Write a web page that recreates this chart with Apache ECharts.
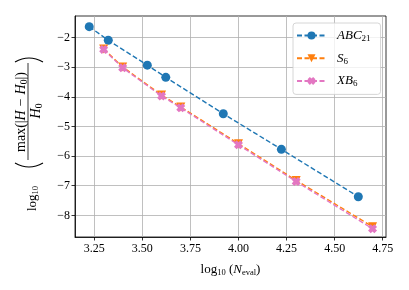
<!DOCTYPE html>
<html><head><meta charset="utf-8">
<script src="https://cdn.jsdelivr.net/npm/echarts@6/dist/echarts.min.js"></script>
<style>html,body{margin:0;padding:0;background:#fff}#c{width:409px;height:290px}</style>
</head><body><div id="c"></div>
<script>
const xABC21 = [3.224, 3.323, 3.526, 3.622, 3.921, 4.223, 4.623];
const yABC21 = [-1.63, -2.09, -2.93, -3.34, -4.57, -5.77, -7.37];
const xS6 = [3.299, 3.398, 3.600, 3.700, 4.000, 4.300, 4.697];
const yS6 = [-2.38, -2.99, -3.94, -4.34, -5.58, -6.82, -8.38];
const xXB6 = [3.299, 3.398, 3.600, 3.700, 4.000, 4.300, 4.697];
const yXB6 = [-2.40, -3.02, -3.97, -4.37, -5.62, -6.86, -8.45];
const xTicks = [3.25, 3.50, 3.75, 4.00, 4.25, 4.50, 4.75];
const yTicks = [-8, -7, -6, -5, -4, -3, -2];
const seriesNames = ['ABC21', 'S6', 'XB6'];

const pair = (xs, ys) => xs.map((x, i) => [x, ys[i]]);
const SERIF = "'Liberation Serif', 'DejaVu Serif', serif";
const xPath = 'path://M0,3 L3,0 L5,2 L7,0 L10,3 L8,5 L10,7 L7,10 L5,8 L3,10 L0,7 L2,5 Z';

const chart = echarts.init(document.getElementById('c'), null, {renderer: 'canvas'});
const legendRich = {
  i: {fontFamily: SERIF, fontStyle: 'italic', fontSize: 13, color: '#000', padding: [0,0,0,6]},
  s: {fontFamily: SERIF, fontSize: 9, color: '#000', padding: [6,0,0,0]}
};
const legendText = {ABC21: '{i|ABC}{s|21}', S6: '{i|S}{s|6}', XB6: '{i|XB}{s|6}'};
const lab = {
  a: {fontFamily: SERIF, fontSize: 14, color: '#000'},
  m: {fontFamily: SERIF, fontSize: 14, color: '#000', padding: [0, 4, 0, 4]},
  i: {fontFamily: SERIF, fontSize: 14, fontStyle: 'italic', color: '#000'},
  s: {fontFamily: SERIF, fontSize: 9.5, color: '#000', padding: [6,0,0,0]}
};

chart.setOption({
  animation: false,
  grid: {left: 75, right: 23, top: 16, bottom: 53, show: true, borderColor: '#000', borderWidth: 0.8, containLabel: false},
  xAxis: {
    type: 'value', min: 3.15, max: 4.767,
    axisLine: {show: true, lineStyle: {color: '#000', width: 0.8}},
    axisTick: {show: true, inside: false, length: 3.5, lineStyle: {color: '#000', width: 0.8}, customValues: xTicks},
    axisLabel: {customValues: xTicks, color: '#000', fontFamily: SERIF, fontSize: 12, margin: 6,
      formatter: v => v.toFixed(2)},
    splitLine: {show: true, lineStyle: {color: '#b0b0b0', width: 0.8}},
    name: '{a|log}{s|10}{a| (}{i|N}{s|eval}{a|)}',
    nameLocation: 'middle', nameGap: 25,
    nameTextStyle: {rich: {
      a: {fontFamily: SERIF, fontSize: 13, color: '#000'},
      i: {fontFamily: SERIF, fontSize: 13, fontStyle: 'italic', color: '#000'},
      s: {fontFamily: SERIF, fontSize: 8.5, color: '#000', padding: [6,0,0,0]}
    }}
  },
  yAxis: {
    type: 'value', min: -8.73, max: -1.27,
    axisLine: {show: true, lineStyle: {color: '#000', width: 0.8}},
    axisTick: {show: true, inside: false, length: 3.5, lineStyle: {color: '#000', width: 0.8}, customValues: yTicks},
    axisLabel: {customValues: yTicks, color: '#000', fontFamily: SERIF, fontSize: 12, margin: 5,
      formatter: v => String(v).replace('-', '\u2212')},
    splitLine: {show: true, lineStyle: {color: '#b0b0b0', width: 0.8}}
  },
  legend: {
    left: 293, top: 23, orient: 'vertical',
    padding: [6, 10, 6, 3], itemGap: 8.7, itemWidth: 29, itemHeight: 10,
    backgroundColor: 'rgba(255,255,255,0.8)', borderColor: '#cccccc', borderWidth: 0.8, borderRadius: 3,
    data: seriesNames,
    formatter: n => legendText[n],
    textStyle: {rich: legendRich}
  },
  series: [
    {name: seriesNames[0], type: 'line', data: pair(xABC21, yABC21), symbol: 'circle', symbolSize: 9,
      itemStyle: {color: '#1f77b4'}, lineStyle: {type: [5, 2.5], width: 1.4, color: '#1f77b4'}},
    {name: seriesNames[1], type: 'line', data: pair(xS6, yS6), symbol: 'triangle', symbolRotate: 180, symbolSize: 9,
      itemStyle: {color: '#ff7f0e'}, lineStyle: {type: [5, 2.5], width: 1.4, color: '#ff7f0e'}},
    {name: seriesNames[2], type: 'line', data: pair(xXB6, yXB6), symbol: xPath, symbolSize: 9,
      itemStyle: {color: '#e377c2'}, lineStyle: {type: [5, 2.5], width: 1.4, color: '#e377c2'}}
  ],
  graphic: [{
    type: 'group', x: 29, y: 134, rotation: Math.PI / 2,
    children: [
      {type: 'text', x: -77, y: 4, style: {text: '{a|log}{s|10}', verticalAlign: 'middle', rich: {
        a: {fontFamily: SERIF, fontSize: 13, color: '#000'},
        s: {fontFamily: SERIF, fontSize: 8.5, color: '#000', padding: [6,0,0,0]}}}},
      {type: 'bezierCurve', shape: {x1: -29, y1: -14, cpx1: -37, cpy1: 0, x2: -29, y2: 14},
        style: {stroke: '#000', lineWidth: 1.1, fill: null}},
      {type: 'text', x: 22, y: -8, style: {text: '{a|max(|}{i|H}{m|\u2212}{i|H}{s|0}{a||)}', textAlign: 'center', verticalAlign: 'middle', rich: lab}},
      {type: 'line', shape: {x1: -26, y1: -1, x2: 71, y2: -1}, style: {stroke: '#000', lineWidth: 0.8}},
      {type: 'text', x: 23, y: 7, style: {text: '{i|H}{s|0}', textAlign: 'center', verticalAlign: 'middle', rich: lab}},
      {type: 'bezierCurve', shape: {x1: 72, y1: -14, cpx1: 80, cpy1: 0, x2: 72, y2: 14},
        style: {stroke: '#000', lineWidth: 1.1, fill: null}}
    ]
  }]
});
</script></body></html>
